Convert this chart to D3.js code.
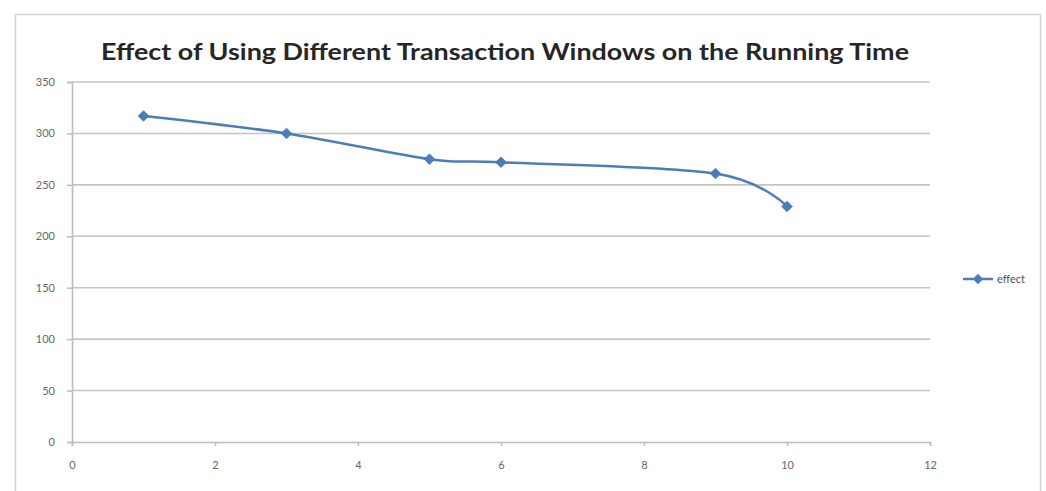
<!DOCTYPE html>
<html>
<head>
<meta charset="utf-8">
<script src="https://cdn.jsdelivr.net/npm/d3@7"></script>
<style>
  html, body { margin: 0; padding: 0; background: #fff; }
  svg { display: block; }
</style>
</head>
<body>
<svg id="chart" width="1046" height="491"></svg>
<script>
// Transaction window size vs. running time
const windows = [1, 3, 5, 6, 9, 10];
const runningTime = [317, 300, 275, 272, 261, 229];
const xTicks = [0, 2, 4, 6, 8, 10, 12];
const yTicks = [0, 50, 100, 150, 200, 250, 300, 350];
const seriesName = "effect";
const titleText = "Effect of Using Different Transaction Windows on the Running Time";

const svg = d3.select("#chart");
const plot = { left: 72, right: 930, top: 82, bottom: 442 };
const lineColor = "#4a7ebb";
const gridColor = "#c4c4c4";

// chart area frame
svg.append("rect")
  .attr("x", 15.5).attr("y", 14.5)
  .attr("width", 1025).attr("height", 490)
  .attr("fill", "#fff")
  .attr("stroke", "#d4d4d4").attr("stroke-width", 1.5);

const x = d3.scaleLinear().domain([0, 12]).range([plot.left, plot.right]);
const y = d3.scaleLinear().domain([0, 350]).range([plot.bottom, plot.top]);

// horizontal gridlines
svg.append("g")
  .selectAll("line")
  .data(yTicks.filter(v => v > 0))
  .join("line")
  .attr("x1", plot.left).attr("x2", plot.right)
  .attr("y1", d => y(d)).attr("y2", d => y(d))
  .attr("stroke", gridColor).attr("stroke-width", 1.6);

// y axis
const yAxis = svg.append("g")
  .attr("transform", `translate(${plot.left},0)`)
  .call(d3.axisLeft(y).tickValues(yTicks).tickSize(5).tickPadding(12));
// x axis
const xAxis = svg.append("g")
  .attr("transform", `translate(0,${plot.bottom})`)
  .call(d3.axisBottom(x).tickValues(xTicks).tickSize(4).tickPadding(15));

[yAxis, xAxis].forEach(g => {
  g.select(".domain").attr("stroke", "#bdbdbd").attr("stroke-width", 1.6);
  g.selectAll(".tick line").attr("stroke", "#bdbdbd").attr("stroke-width", 1.5);
  g.selectAll(".tick text")
    .attr("fill", "#666")
    .attr("font-family", "Lato, 'Open Sans', sans-serif")
    .attr("font-size", 11);
});

// smoothed series line
const pts = windows.map((w, i) => [w, runningTime[i]]);
const line = d3.line()
  .x(d => x(d[0])).y(d => y(d[1]))
  .curve(d3.curveCardinal.tension(0));
svg.append("path")
  .datum(pts)
  .attr("d", line)
  .attr("fill", "none")
  .attr("stroke", lineColor)
  .attr("stroke-width", 2.5)
  .attr("stroke-linejoin", "round");

// diamond markers
const diamond = d3.symbol().type(d3.symbolDiamond2).size(70);
svg.append("g")
  .selectAll("path")
  .data(pts)
  .join("path")
  .attr("transform", d => `translate(${x(d[0])},${y(d[1])})`)
  .attr("d", diamond)
  .attr("fill", lineColor)
  .attr("stroke", "#3c6ea8").attr("stroke-width", 0.8);

// title
svg.append("text")
  .attr("x", 505).attr("y", 60)
  .attr("text-anchor", "middle")
  .attr("font-family", "Lato, 'Open Sans', sans-serif")
  .attr("font-weight", "bold")
  .attr("font-size", 23)
  .attr("fill", "#262626")
  .attr("textLength", 808)
  .attr("lengthAdjust", "spacingAndGlyphs")
  .text(titleText);

// legend
const lg = svg.append("g").attr("transform", "translate(963,279)");
lg.append("line").attr("x1", 0).attr("x2", 30).attr("y1", 0).attr("y2", 0)
  .attr("stroke", lineColor).attr("stroke-width", 2.5);
lg.append("path").attr("transform", "translate(15,0)").attr("d", diamond)
  .attr("fill", lineColor);
lg.append("text").attr("x", 34).attr("y", 4)
  .attr("font-family", "Lato, 'Open Sans', sans-serif")
  .attr("font-size", 11)
  .attr("fill", "#505050")
  .text(seriesName);
</script>
</body>
</html>
